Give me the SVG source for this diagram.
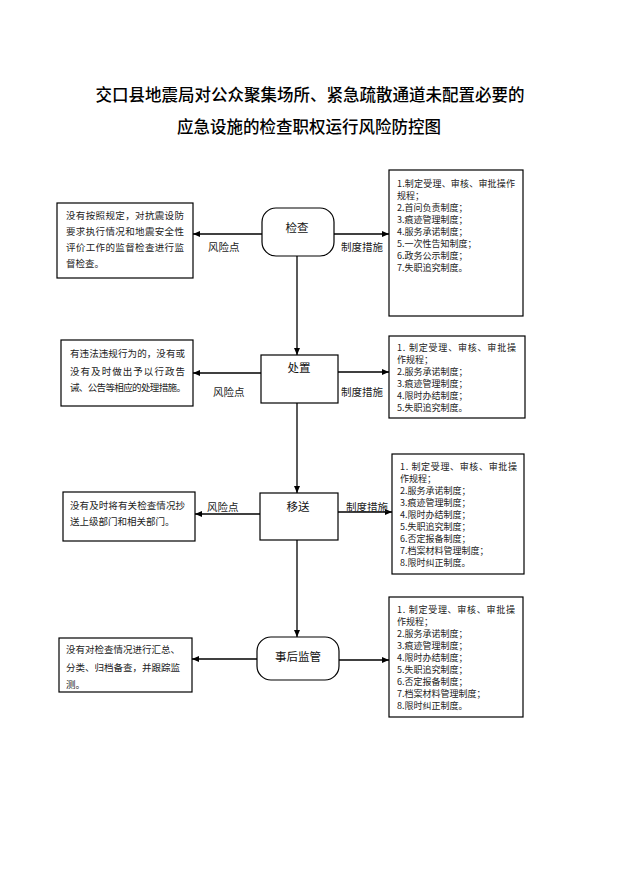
<svg xmlns="http://www.w3.org/2000/svg" width="621" height="878" viewBox="0 0 621 878">
<defs>
<marker id="ah" markerWidth="8" markerHeight="8" refX="7" refY="4" orient="auto" markerUnits="userSpaceOnUse">
<path d="M0,1 L7,4 L0,7 Z" fill="#000"/>
</marker>
<style>
.box{fill:#fff;stroke:#000;stroke-width:1.2}
.t{font-family:"Noto Sans CJK SC","Liberation Sans",sans-serif;font-size:9.5px;fill:#222}
.m{font-family:"Noto Sans CJK SC","Liberation Sans",sans-serif;font-size:9px;fill:#222}
.n{font-family:"Noto Sans CJK SC","Liberation Sans",sans-serif;font-size:11.5px;fill:#111;text-anchor:middle}
.lb{font-family:"Noto Sans CJK SC","Liberation Sans",sans-serif;font-size:10.5px;fill:#222}
.title{font-family:"Noto Sans CJK SC",sans-serif;font-size:16.5px;font-weight:500;fill:#000;text-anchor:middle}
.c{stroke:#000;stroke-width:1.3;fill:none;marker-end:url(#ah)}
</style>
</defs>
<rect width="621" height="878" fill="#fff"/>
<g id="title">
<text class="title" x="310" y="101">交口县地震局对公众聚集场所、紧急疏散通道未配置必要的</text>
<text class="title" x="309" y="133">应急设施的检查职权运行风险防控图</text>
</g>

<g id="connectors">
<line class="c" x1="262" y1="234" x2="193" y2="234"/>
<line class="c" x1="334" y1="234" x2="389" y2="234"/>
<line class="c" x1="297" y1="256" x2="297" y2="355"/>
<line class="c" x1="261" y1="373" x2="193" y2="373"/>
<line class="c" x1="338" y1="372" x2="389" y2="372"/>
<line class="c" x1="297" y1="403" x2="297" y2="493"/>
<line class="c" x1="260" y1="514" x2="195" y2="514"/>
<line class="c" x1="338" y1="512" x2="392" y2="512"/>
<line class="c" x1="297" y1="540" x2="297" y2="637"/>
<line class="c" x1="257" y1="659" x2="192" y2="659"/>
<line class="c" x1="339" y1="660" x2="389" y2="660"/>
<text class="lb" x="208" y="251">风险点</text>
<text class="lb" x="341" y="251">制度措施</text>
<text class="lb" x="213" y="396">风险点</text>
<text class="lb" x="341" y="396">制度措施</text>
<text class="lb" x="207" y="511">风险点</text>
<text class="lb" x="346" y="511">制度措施</text>
</g>

<g id="node-jiancha">
<rect class="box" x="262" y="208" width="72" height="48" rx="14" ry="14"/>
<text class="n" x="297" y="232">检查</text>
</g>
<g id="node-chuzhi">
<rect class="box" x="261" y="355" width="77" height="48"/>
<text class="n" x="299" y="372">处置</text>
</g>
<g id="node-yisong">
<rect class="box" x="260" y="493" width="78" height="47"/>
<text class="n" x="298" y="511">移送</text>
</g>
<g id="node-shihou">
<rect class="box" x="257" y="637" width="82" height="43" rx="14" ry="14"/>
<text class="n" x="298" y="661">事后监管</text>
</g>

<g id="risk-1">
<rect class="box" x="57" y="203" width="136" height="75"/>
<text class="t" x="66" y="218.5" textLength="118" lengthAdjust="spacing">没有按照规定，对抗震设防</text>
<text class="t" x="66" y="234.5" textLength="118" lengthAdjust="spacing">要求执行情况和地震安全性</text>
<text class="t" x="66" y="250.5" textLength="118" lengthAdjust="spacing">评价工作的监督检查进行监</text>
<text class="t" x="66" y="266.5">督检查。</text>
</g>
<g id="risk-2">
<rect class="box" x="61" y="340" width="132" height="66"/>
<text class="t" x="70" y="356.5" textLength="115" lengthAdjust="spacing">有违法违规行为的，没有或</text>
<text class="t" x="70" y="374.5" textLength="115" lengthAdjust="spacing">没有及时做出予以行政告</text>
<text class="t" x="70" y="390.5" textLength="116" lengthAdjust="spacing">诫、公告等相应的处理措施。</text>
</g>
<g id="risk-3">
<rect class="box" x="63" y="492" width="132" height="49"/>
<text class="t" x="70" y="508.5" textLength="115" lengthAdjust="spacing">没有及时将有关检查情况抄</text>
<text class="t" x="70" y="524.5">送上级部门和相关部门。</text>
</g>
<g id="risk-4">
<rect class="box" x="59" y="638" width="133" height="54"/>
<text class="t" x="66" y="652.5" textLength="114" lengthAdjust="spacing">没有对检查情况进行汇总、</text>
<text class="t" x="66" y="670.5" textLength="114" lengthAdjust="spacing">分类、归档备查，并跟踪监</text>
<text class="t" x="66" y="687.5">测。</text>
</g>

<g id="measure-1">
<rect class="box" x="389" y="170" width="134" height="146"/>
<text class="m" x="397" y="187" textLength="118" lengthAdjust="spacing">1.制定受理、审核、审批操作</text>
<text class="m" x="397" y="199">规程；</text>
<text class="m" x="397" y="211">2.首问负责制度；</text>
<text class="m" x="397" y="223">3.痕迹管理制度；</text>
<text class="m" x="397" y="235">4.服务承诺制度；</text>
<text class="m" x="397" y="247">5.一次性告知制度；</text>
<text class="m" x="397" y="259">6.政务公示制度；</text>
<text class="m" x="397" y="271">7.失职追究制度。</text>
</g>
<g id="measure-2">
<rect class="box" x="389" y="336" width="136" height="82"/>
<text class="m" x="397" y="351" textLength="119" lengthAdjust="spacing">1. 制定受理、审核、审批操</text>
<text class="m" x="397" y="363">作规程；</text>
<text class="m" x="397" y="375">2.服务承诺制度；</text>
<text class="m" x="397" y="387">3.痕迹管理制度；</text>
<text class="m" x="397" y="399">4.限时办结制度；</text>
<text class="m" x="397" y="411">5.失职追究制度。</text>
</g>
<g id="measure-3">
<rect class="box" x="392" y="454" width="132" height="120"/>
<text class="m" x="400" y="470" textLength="117" lengthAdjust="spacing">1. 制定受理、审核、审批操</text>
<text class="m" x="400" y="482">作规程；</text>
<text class="m" x="400" y="494">2.服务承诺制度；</text>
<text class="m" x="400" y="506">3.痕迹管理制度；</text>
<text class="m" x="400" y="518">4.限时办结制度；</text>
<text class="m" x="400" y="530">5.失职追究制度；</text>
<text class="m" x="400" y="542">6.否定报备制度；</text>
<text class="m" x="400" y="554">7.档案材料管理制度；</text>
<text class="m" x="400" y="566">8.限时纠正制度。</text>
</g>
<g id="measure-4">
<rect class="box" x="389" y="597" width="134" height="120"/>
<text class="m" x="397" y="613" textLength="118" lengthAdjust="spacing">1. 制定受理、审核、审批操</text>
<text class="m" x="397" y="625">作规程；</text>
<text class="m" x="397" y="637">2.服务承诺制度；</text>
<text class="m" x="397" y="649">3.痕迹管理制度；</text>
<text class="m" x="397" y="661">4.限时办结制度；</text>
<text class="m" x="397" y="673">5.失职追究制度；</text>
<text class="m" x="397" y="685">6.否定报备制度；</text>
<text class="m" x="397" y="697">7.档案材料管理制度；</text>
<text class="m" x="397" y="709">8.限时纠正制度。</text>
</g>
</svg>
